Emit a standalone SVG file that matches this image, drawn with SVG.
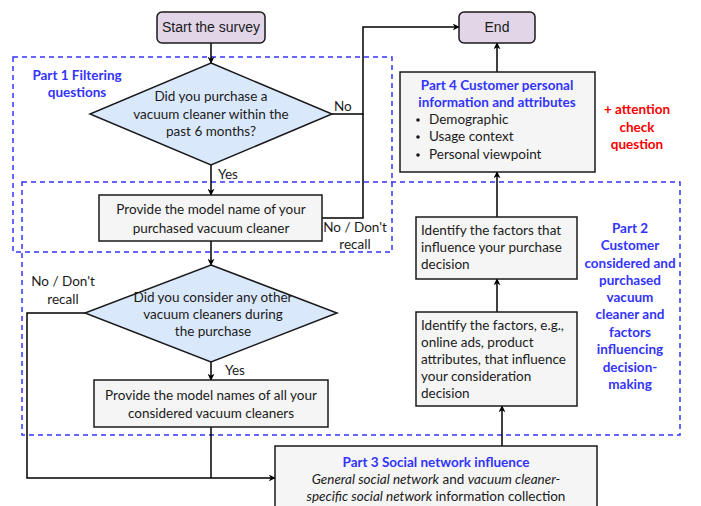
<svg xmlns="http://www.w3.org/2000/svg" width="701" height="506" viewBox="0 0 701 506">
<defs>
<marker id="arr" viewBox="0 0 10 10" refX="9" refY="5" markerWidth="7" markerHeight="7" markerUnits="userSpaceOnUse" orient="auto">
<path d="M0,0 L10,5 L0,10 L3,5 Z" fill="#000"/>
</marker>
</defs>
<style>
.box{fill:#f5f5f5;stroke:#1a1a1a;stroke-width:1.5}
.term{fill:#e1d5e7;stroke:#1a1a1a;stroke-width:1.5}
.dia{fill:#dae8fc;stroke:#1a1a1a;stroke-width:1.5}
.dash{fill:none;stroke:#3333ff;stroke-width:1.5;stroke-dasharray:5 4}
.ln{fill:none;stroke:#000;stroke-width:1.5}
.a{marker-end:url(#arr)}
text{font-family:Lato,"Open Sans",sans-serif;font-size:13.5px;fill:#1a1a1a}
.h{font-family:"Liberation Sans",Arial,sans-serif;font-size:14px}
.c{text-anchor:middle}
.blue{fill:#3333ff;font-weight:bold}
.red{fill:#ff0000;font-weight:bold}
.i{font-style:italic}
</style>
<g id="part1-frame"><rect class="dash" x="13" y="57" width="379" height="195"/>
<text class="blue c" x="77" y="80">Part 1 Filtering</text><text class="blue c" x="77" y="97">questions</text></g>
<g id="part2-frame"><rect class="dash" x="22" y="182" width="658" height="253"/>
<text class="blue c" x="630" y="233">Part 2</text>
<text class="blue c" x="630" y="250">Customer</text>
<text class="blue c" x="630" y="268">considered and</text>
<text class="blue c" x="630" y="285">purchased</text>
<text class="blue c" x="630" y="302">vacuum</text>
<text class="blue c" x="630" y="319">cleaner and</text>
<text class="blue c" x="630" y="337">factors</text>
<text class="blue c" x="630" y="354">influencing</text>
<text class="blue c" x="630" y="372">decision-</text>
<text class="blue c" x="630" y="389">making</text></g>
<g id="connectors">
<path class="ln a" d="M211,43 V63"/>
<path class="ln a" d="M211,165 V195"/>
<path class="ln a" d="M332,114 H363 V27 H459"/>
<path class="ln" d="M322,218 H363 V114"/>
<path class="ln a" d="M211,241 V265"/>
<path class="ln a" d="M211,362 V380"/>
<path class="ln a" d="M85,313 H27 V478 H275"/>
<path class="ln" d="M211,427 V478"/>
<path class="ln a" d="M502,446 V406"/>
<path class="ln a" d="M497,312 V279"/>
<path class="ln a" d="M497,217 V172"/>
<path class="ln a" d="M497,72 V43"/>
<text x="334" y="111">No</text>
<text x="218" y="179">Yes</text>
<text class="c" x="355" y="232">No / Don't</text>
<text class="c" x="355" y="249">recall</text>
<text class="c" x="63" y="286">No / Don't</text>
<text class="c" x="63" y="304">recall</text>
<text x="225" y="375">Yes</text>
</g>
<g id="start"><rect class="term" x="157" y="12" width="108" height="31" rx="5"/><text class="h c" x="211" y="32">Start the survey</text></g>
<g id="end"><rect class="term" x="459" y="12" width="76" height="31" rx="5"/><text class="h c" x="497" y="32">End</text></g>
<g id="q1"><path class="dia" d="M211,63 L332,114 L211,165 L90,114 Z"/>
<text class="c" x="211" y="101">Did you purchase a</text>
<text class="c" x="211" y="119">vacuum cleaner within the</text>
<text class="c" x="211" y="136">past 6 months?</text></g>
<g id="model"><rect class="box" x="99" y="195" width="223" height="46"/>
<text class="c" x="211" y="214">Provide the model name of your</text>
<text class="c" x="211" y="233">purchased vacuum cleaner</text></g>
<g id="q2"><path class="dia" d="M211,265 L337,313 L211,362 L85,313 Z"/>
<text class="c" x="213" y="302">Did you consider any other</text>
<text class="c" x="213" y="319">vacuum cleaners during</text>
<text class="c" x="213" y="336">the purchase</text></g>
<g id="models"><rect class="box" x="94" y="380" width="234" height="47"/>
<text class="c" x="211" y="400">Provide the model names of all your</text>
<text class="c" x="211" y="418">considered vacuum cleaners</text></g>
<g id="part3"><rect class="box" x="275" y="446" width="322" height="70"/>
<text class="blue c" x="436" y="467">Part 3 Social network influence</text>
<text class="c" x="436" y="484"><tspan class="i">General social network</tspan> and <tspan class="i">vacuum cleaner-</tspan></text>
<text class="c" x="436" y="501"><tspan class="i">specific social network</tspan> information collection</text></g>
<g id="factors1"><rect class="box" x="416" y="312" width="161" height="94"/>
<text x="421" y="330">Identify the factors, e.g.,</text>
<text x="421" y="347">online ads, product</text>
<text x="421" y="364">attributes, that influence</text>
<text x="421" y="381">your consideration</text>
<text x="421" y="398">decision</text></g>
<g id="factors2"><rect class="box" x="416" y="217" width="161" height="62"/>
<text x="421" y="235">Identify the factors that</text>
<text x="421" y="252">influence your purchase</text>
<text x="421" y="269">decision</text></g>
<g id="part4"><rect class="box" x="400" y="72" width="195" height="100"/>
<text class="blue c" x="497" y="90">Part 4 Customer personal</text>
<text class="blue c" x="497" y="107">information and attributes</text>
<circle cx="418" cy="120" r="1.8" fill="#1a1a1a"/><text x="429" y="124">Demographic</text>
<circle cx="418" cy="137" r="1.8" fill="#1a1a1a"/><text x="429" y="141">Usage context</text>
<circle cx="418" cy="155" r="1.8" fill="#1a1a1a"/><text x="429" y="159">Personal viewpoint</text></g>
<g id="attention"><text class="red c" x="637" y="114">+ attention</text>
<text class="red c" x="637" y="132">check</text>
<text class="red c" x="637" y="149">question</text></g>
</svg>
